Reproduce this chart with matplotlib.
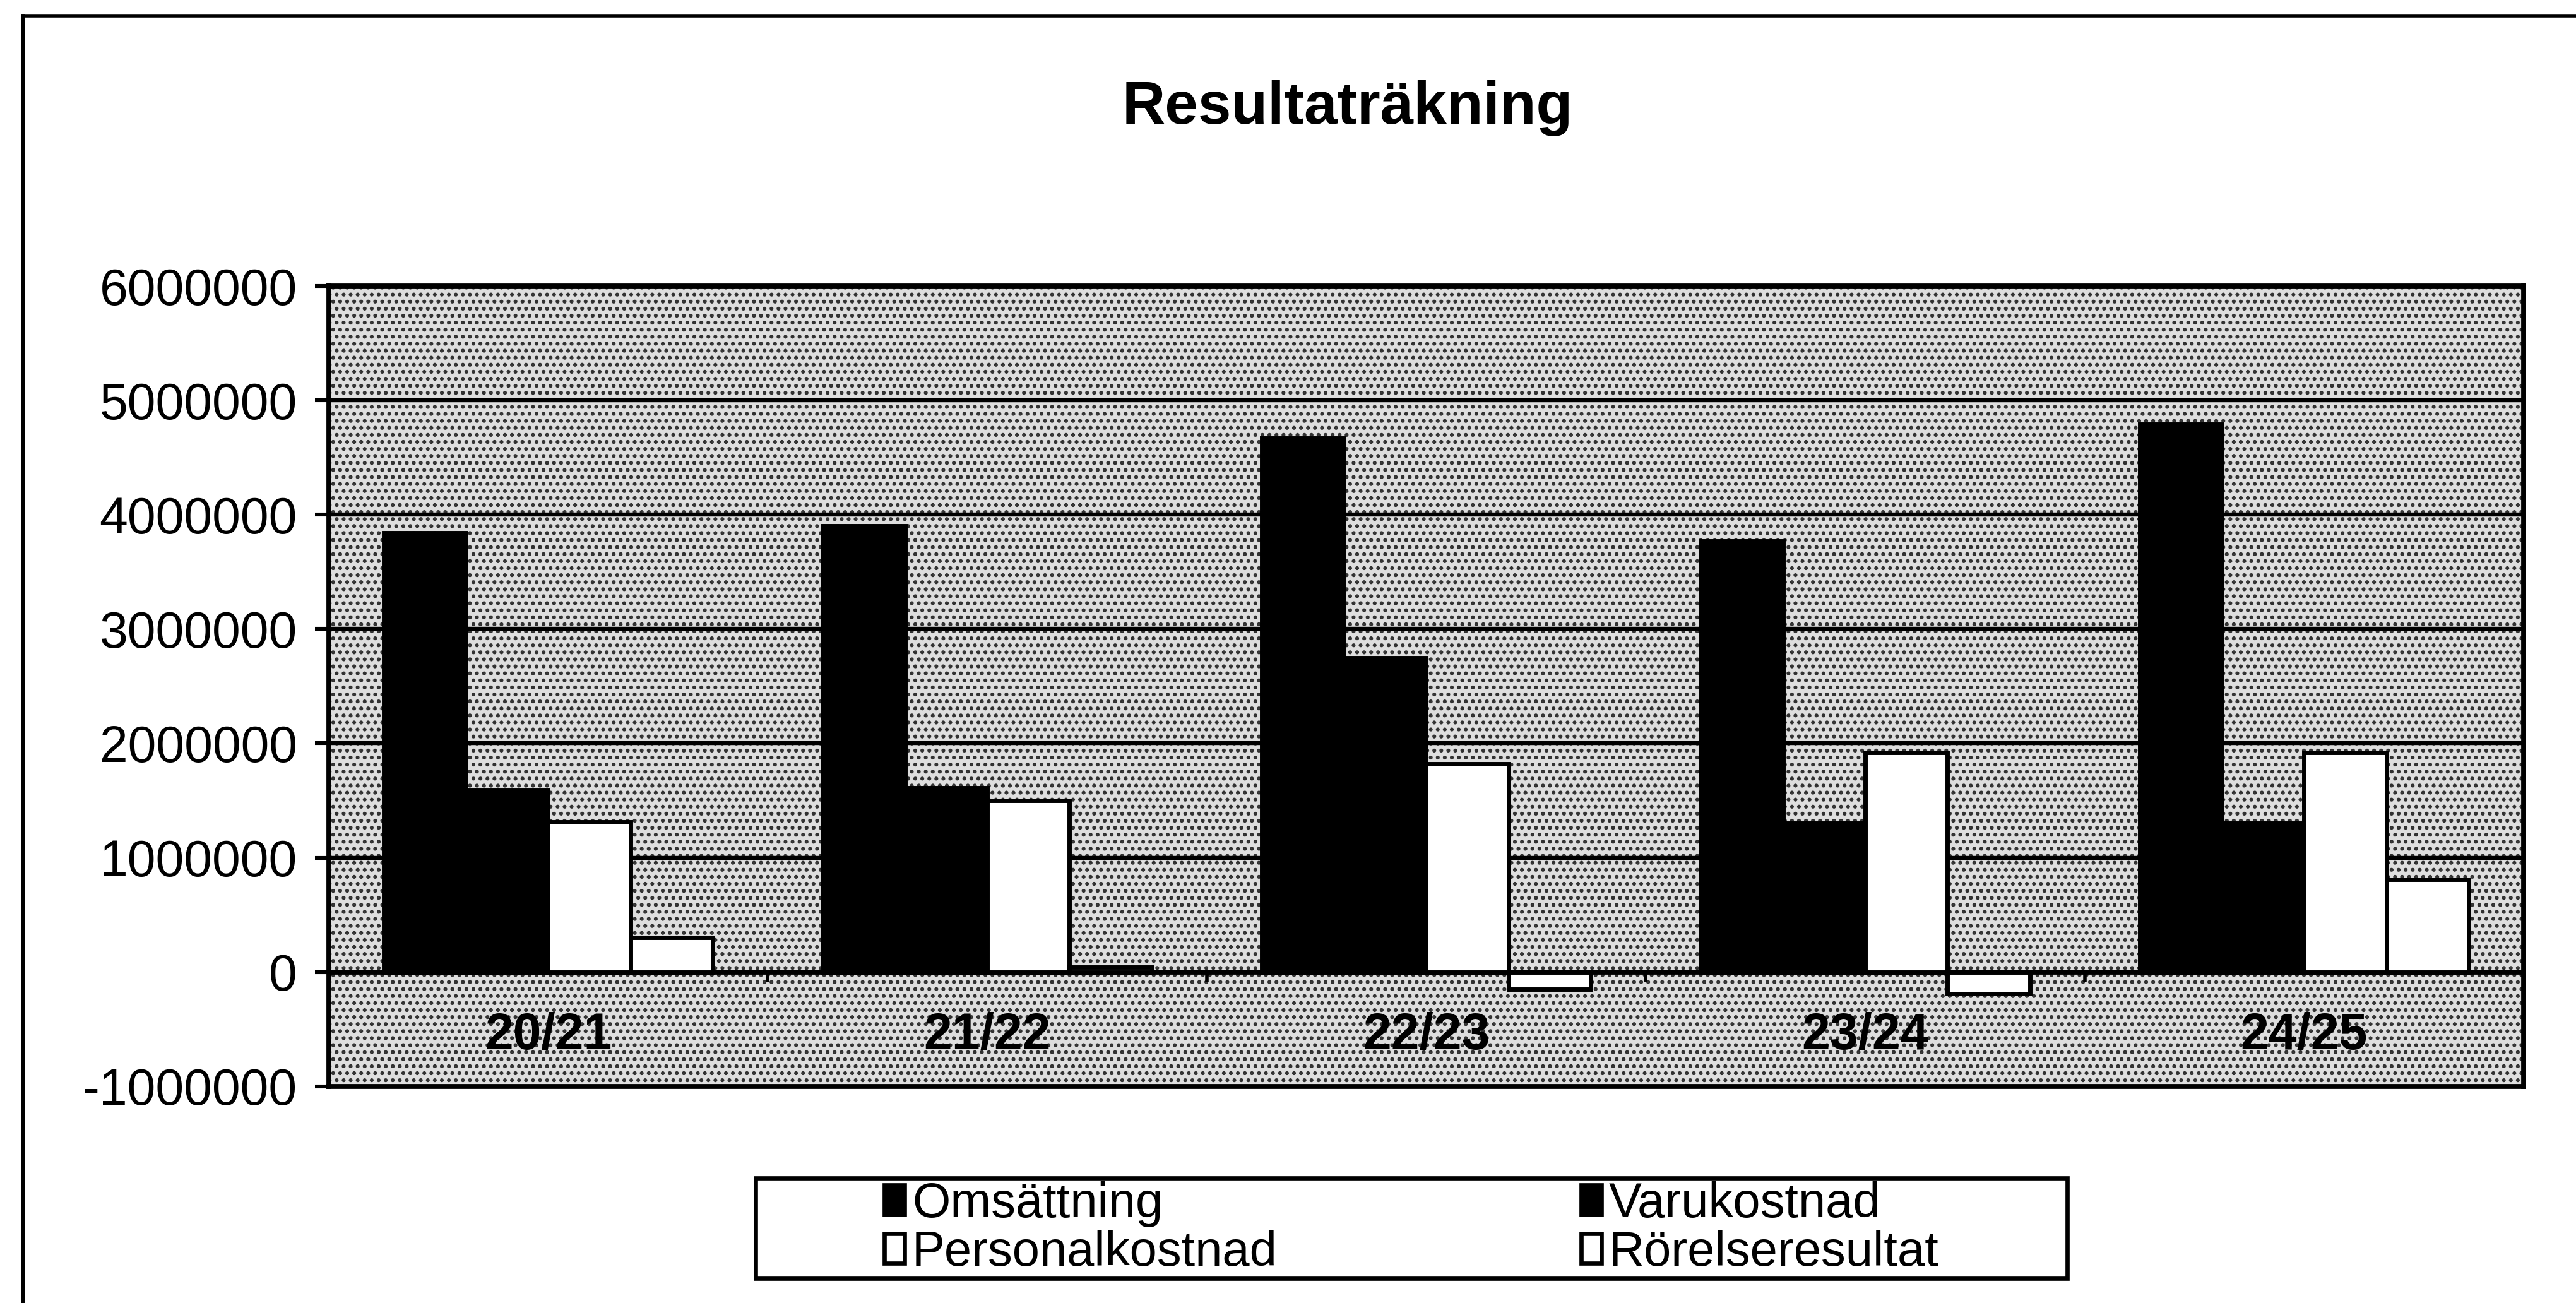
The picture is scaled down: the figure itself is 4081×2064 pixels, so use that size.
import matplotlib
matplotlib.use("Agg")
import matplotlib.pyplot as plt
import numpy as np
from matplotlib.lines import Line2D
from matplotlib.patches import Patch, Rectangle
from matplotlib.ticker import FuncFormatter, MultipleLocator

plt.rcParams.update(
    {
        "font.family": ["Liberation Sans", "DejaVu Sans"],
        "axes.unicode_minus": False,
        "hatch.linewidth": 1.4,
    }
)

# %% Data

years = ["20/21", "21/22", "22/23", "23/24", "24/25"]
series_names = ["Omsättning", "Varukostnad", "Personalkostnad", "Rörelseresultat"]
omsattning = [3840000, 3900000, 4670000, 3770000, 4790000]
varukostnad = [1590000, 1610000, 2750000, 1300000, 1300000]
personalkostnad = [1310000, 1500000, 1820000, 1920000, 1920000]
rorelseresultat = [300000, 40000, -150000, -190000, 810000]

series_values = [omsattning, varukostnad, personalkostnad, rorelseresultat]
face_colors = ["black", "black", "white", "white"]

# %% Plot

fig = plt.figure(figsize=(20.405, 10.32), dpi=200)
ax = fig.add_axes([0.1276, 0.1663, 0.8521, 0.6142])

x = np.arange(len(years))
bar_w = 0.1875

# stippled grey background of the plot area
ax.add_patch(
    Rectangle(
        (0, 0), 1, 1,
        transform=ax.transAxes,
        facecolor="#dedede",
        edgecolor="#303030",
        hatch="...",
        lw=0,
        zorder=0,
    )
)

for i, (name, vals, fc) in enumerate(zip(series_names, series_values, face_colors)):
    ax.bar(
        x + (i - 1.5) * bar_w,
        vals,
        width=bar_w,
        color=fc,
        edgecolor="black",
        linewidth=2.5,
        zorder=3,
        label=name,
    )

ax.set_xlim(-0.5, len(years) - 0.5)
ax.set_ylim(-1000000, 6000000)
ax.yaxis.set_major_locator(MultipleLocator(1000000))
ax.yaxis.set_major_formatter(FuncFormatter(lambda v, _: f"{int(round(v))}"))
ax.tick_params(axis="y", labelsize=29, length=8, width=2.2, pad=10)
ax.set_xticks([])

ax.grid(axis="y", color="black", linewidth=2.3, zorder=1)
ax.set_axisbelow(True)
ax.axhline(0, color="black", linewidth=2.8, zorder=2)

# small category separator marks below the zero line
ax.vlines(x[:-1] + 0.5, -90000, 0, color="black", linewidth=2, zorder=2)

for spine in ax.spines.values():
    spine.set_linewidth(2.8)

for xi, label in zip(x, years):
    ax.text(
        xi, -560000, label,
        ha="center", va="center",
        fontsize=29, fontweight="bold", zorder=4,
    )

fig.text(
    0.523, 0.917, "Resultaträkning",
    ha="center", va="center", fontsize=34, fontweight="bold",
)

# legend: box drawn separately, entries spread across it
fig.add_artist(
    Rectangle(
        (0.2933, 0.0189), 0.5092, 0.077,
        transform=fig.transFigure,
        facecolor="white", edgecolor="black", lw=2.4,
    )
)
handles = [
    Patch(facecolor=fc, edgecolor="black", linewidth=2.4)
    for fc in face_colors
]
order = [0, 2, 1, 3]
fig.legend(
    [handles[i] for i in order],
    [series_names[i] for i in order],
    ncol=2,
    loc="center",
    bbox_to_anchor=(0.3432, 0.0572, 0.4095, 0.0),
    mode="expand",
    frameon=False,
    fontsize=28,
    handlelength=0.42,
    handleheight=0.55,
    handletextpad=0.15,
    labelspacing=0.05,
    borderpad=0,
    borderaxespad=0,
)

# outer chart frame (left and top edges visible)
fig.add_artist(Line2D([0.0088, 0.0088], [0.0, 0.988], color="black", lw=2.4, transform=fig.transFigure))
fig.add_artist(Line2D([0.0088, 1.0], [0.988, 0.988], color="black", lw=2.0, transform=fig.transFigure))

fig.savefig("out.png", dpi=200, facecolor="white")
